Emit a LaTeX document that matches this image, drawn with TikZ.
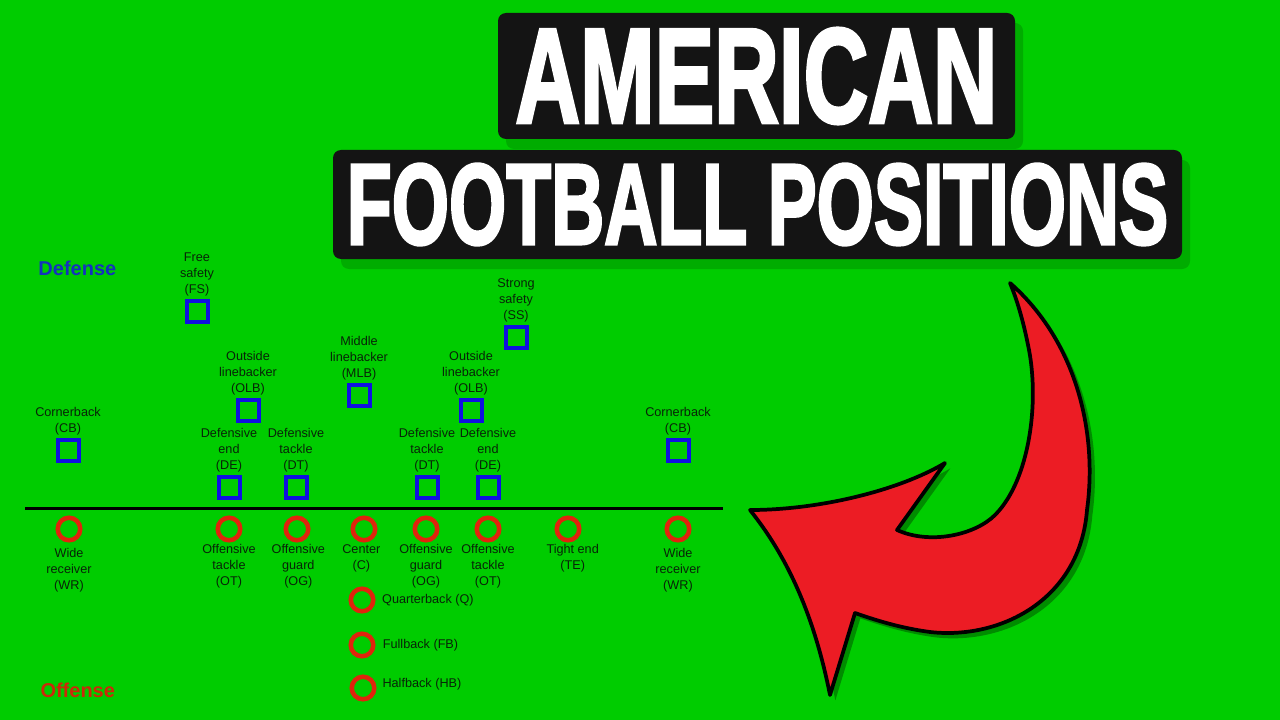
\documentclass[tikz,border=0pt]{standalone}
\usepackage{fontspec}
\setmainfont{Liberation Sans}
\newfontfamily\titlefont[FakeBold=2.8]{Liberation Sans Bold}
\usetikzlibrary{positioning,shadows}
\tikzset{every picture/.style={line width=0.75pt}}

\definecolor{fieldgreen}{RGB}{0,204,0}
\definecolor{fieldshade}{RGB}{0,172,0}
\definecolor{arrowshade}{RGB}{0,140,0}
\definecolor{defblue}{RGB}{16,16,226}
\definecolor{defword}{RGB}{20,50,190}
\definecolor{offred}{RGB}{224,36,12}
\definecolor{offword}{RGB}{205,40,10}
\definecolor{arrowred}{RGB}{236,28,36}
\definecolor{titleblack}{RGB}{20,20,20}
\definecolor{labelink}{RGB}{8,36,8}

\tikzset{
  defsq/.style={draw=defblue, line width=3pt, minimum size=15.75pt, inner sep=0pt},
  offring/.style={circle, draw=offred, line width=3.4pt, minimum size=16.9pt, inner sep=0pt},
  poslbl/.style={text=labelink, font=\fontsize{9.5}{12}\selectfont, align=center, inner sep=0pt, outer sep=0pt},
  titlebox/.style={fill=titleblack, rounded corners=6pt, inner sep=0pt, text=white, font=\titlefont,
    general shadow={fill=fieldshade, shadow xshift=6pt, shadow yshift=-7.5pt}},
  sidetag/.style={font=\fontsize{15}{18}\selectfont\bfseries, inner sep=0pt, anchor=west}
}

\begin{document}
\begin{tikzpicture}[x=0.75pt,y=0.75pt,yscale=-1,xscale=1]
\useasboundingbox (0,0) rectangle (1280,720);
\fill [fieldgreen] (0,0) rectangle (1280,720);

% Title boxes
\node [titlebox, minimum width=387.75pt, minimum height=94.5pt] (ttltop) at (756.5,76) {\resizebox{361.5pt}{70.5pt}{AMERICAN}};
\node [titlebox, minimum width=636.75pt, minimum height=81.75pt] (ttlbot) at (757.5,204.5) {\resizebox{615.75pt}{60pt}{FOOTBALL POSITIONS}};

% Text Node
\node [sidetag, text=defword] (deftag) at (38,268) {Defense};
% Text Node
\node [sidetag, text=offword] (offtag) at (40,690) {Offense};

% Line of scrimmage
\coordinate (losl) at (25,508);
\coordinate (losr) at (723,508);
\draw [line width=2.25pt] (losl) -- (losr);

% Defense
\node [defsq] (fs) at (197,311) {};
\node [defsq] (ss) at (516,337) {};
\node [defsq] (olbl) at (248,410) {};
\node [defsq] (mlb) at (359,395) {};
\node [defsq] (olbr) at (471,410) {};
\node [defsq] (cbl) at (68,450) {};
\node [defsq] (cbr) at (678,450) {};
\node [defsq] (del) at (229,487) {};
\node [defsq] (dtl) at (296,487) {};
\node [defsq] (dtr) at (427,487) {};
\node [defsq] (der) at (488,487) {};

\node [poslbl, above=2pt of fs] (fslbl) {Free\\safety\\(FS)};
\node [poslbl, above=2pt of ss] (sslbl) {Strong\\safety\\(SS)};
\node [poslbl, above=2pt of olbl] (olbllbl) {Outside\\linebacker\\(OLB)};
\node [poslbl, above=2pt of mlb] (mlblbl) {Middle\\linebacker\\(MLB)};
\node [poslbl, above=2pt of olbr] (olbrlbl) {Outside\\linebacker\\(OLB)};
\node [poslbl, above=2pt of cbl] (cbllbl) {Cornerback\\(CB)};
\node [poslbl, above=2pt of cbr] (cbrlbl) {Cornerback\\(CB)};
\node [poslbl, above=2pt of del] (dellbl) {Defensive\\end\\(DE)};
\node [poslbl, above=2pt of dtl] (dtllbl) {Defensive\\tackle\\(DT)};
\node [poslbl, above=2pt of dtr] (dtrlbl) {Defensive\\tackle\\(DT)};
\node [poslbl, above=2pt of der] (derlbl) {Defensive\\end\\(DE)};

% Offense
\node [offring] (wrl) at (69,529) {};
\node [offring] (otl) at (229,529) {};
\node [offring] (ogl) at (297,529) {};
\node [offring] (ctr) at (364,529) {};
\node [offring] (ogr) at (426,529) {};
\node [offring] (otr) at (488,529) {};
\node [offring] (te) at (568,529) {};
\node [offring] (wrr) at (678,529) {};
\node [offring] (qb) at (362,600) {};
\node [offring] (fb) at (362,645) {};
\node [offring] (hb) at (363,688) {};

\node [poslbl, below=4pt of wrl] (wrllbl) {Wide\\receiver\\(WR)};
\node [poslbl, below=1.5pt of otl] (otllbl) {Offensive\\tackle\\(OT)};
\node [poslbl, below=1.5pt of ogl, xshift=1pt] (ogllbl) {Offensive\\guard\\(OG)};
\node [poslbl, below=1.5pt of ctr, xshift=-2pt] (ctrlbl) {Center\\(C)};
\node [poslbl, below=1.5pt of ogr] (ogrlbl) {Offensive\\guard\\(OG)};
\node [poslbl, below=1.5pt of otr] (otrlbl) {Offensive\\tackle\\(OT)};
\node [poslbl, below=1.5pt of te, xshift=3.5pt] (telbl) {Tight end\\(TE)};
\node [poslbl, below=4pt of wrr] (wrrlbl) {Wide\\receiver\\(WR)};
\node [poslbl, right=5pt of qb] (qblbl) {Quarterback (Q)};
\node [poslbl, right=5.5pt of fb] (fblbl) {Fullback (FB)};
\node [poslbl, right=4.5pt of hb, yshift=2.5pt] (hblbl) {Halfback (HB)};

% Curved arrow
\draw [fill=arrowred, line width=2.8pt, line join=round,
  general shadow={fill=arrowshade, shadow xshift=4pt, shadow yshift=-4pt}]
  (1010,283) .. controls (1075,340) and (1098,430) .. (1087,510)
  .. controls (1080,600) and (1000,640) .. (930,632)
  .. controls (900,628) and (875,620) .. (855,613)
  -- (830,695)
  .. controls (815,620) and (790,560) .. (750,510)
  .. controls (820,510) and (900,490) .. (945,463)
  -- (897,530)
  .. controls (930,545) and (975,535) .. (995,515)
  .. controls (1030,480) and (1040,400) .. (1028,345)
  .. controls (1022,315) and (1015,295) .. (1010,283) -- cycle;
\end{tikzpicture}
\end{document}
